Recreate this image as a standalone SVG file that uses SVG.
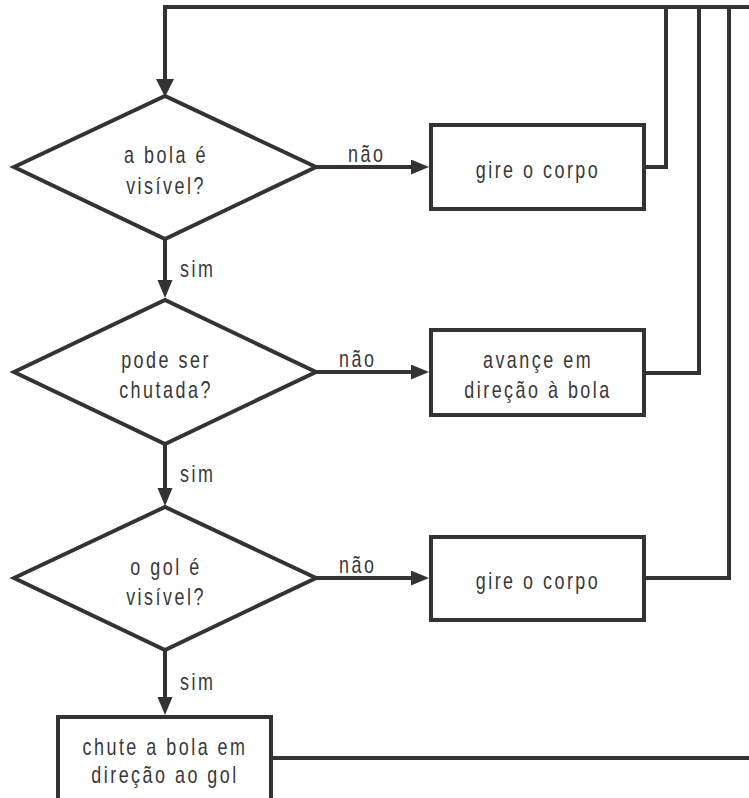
<svg xmlns="http://www.w3.org/2000/svg" width="749" height="798" viewBox="0 0 749 798">
<defs>
<marker id="arr" markerUnits="userSpaceOnUse" markerWidth="20" markerHeight="16" refX="2" refY="7.5" orient="auto">
<path d="M0,0 L18,7.5 L0,15 z" fill="#333"/>
</marker>
<style>
.shape{fill:#fff;stroke:#333;stroke-width:4;stroke-linejoin:miter}
.conn{fill:none;stroke:#333;stroke-width:4;stroke-linejoin:miter}
.arrow{marker-end:url(#arr)}
text{font-family:"Liberation Sans",Arial,sans-serif;font-size:23px;fill:#383838;letter-spacing:3.2px}
.c{text-anchor:middle}
</style>
</defs>
<rect width="749" height="798" fill="#fff"/>
<g id="connectors">
<path class="conn" d="M271,758 H762 V7 H165 V79"/>
<polygon points="156,79 174,79 165,97" fill="#333"/>
<path class="conn" d="M644,167 H666 V7"/>
<path class="conn" d="M644,373 H699 V7"/>
<path class="conn" d="M644,578 H729 V7"/>
<path class="conn arrow" d="M316,167 H413"/>
<path class="conn arrow" d="M316,372 H413"/>
<path class="conn arrow" d="M316,578 H413"/>
<path class="conn arrow" d="M165,239 V282"/>
<path class="conn arrow" d="M165,444 V490"/>
<path class="conn arrow" d="M165,650 V699"/>
<text transform="translate(348,162) scale(0.78,1)">não</text>
<text transform="translate(339,367) scale(0.78,1)">não</text>
<text transform="translate(339,573) scale(0.78,1)">não</text>
<text transform="translate(180,277) scale(0.78,1)">sim</text>
<text transform="translate(180,482) scale(0.78,1)">sim</text>
<text transform="translate(180,690) scale(0.78,1)">sim</text>
</g>
<g id="d1">
<polygon class="shape" points="14,167 165,96 316,167 165,239"/>
<text class="c" transform="translate(166,163) scale(0.78,1)">a bola é</text>
<text class="c" transform="translate(166,194) scale(0.78,1)">visível?</text>
</g>
<g id="b1">
<rect class="shape" x="431" y="125" width="213" height="84"/>
<text class="c" transform="translate(538,178) scale(0.78,1)">gire o corpo</text>
</g>
<g id="d2">
<polygon class="shape" points="14,372 165,300 316,372 165,444"/>
<text class="c" transform="translate(166,368) scale(0.78,1)">pode ser</text>
<text class="c" transform="translate(166,398) scale(0.78,1)">chutada?</text>
</g>
<g id="b2">
<rect class="shape" x="431" y="330" width="213" height="85"/>
<text class="c" transform="translate(538,368) scale(0.78,1)">avançe em</text>
<text class="c" transform="translate(538,398) scale(0.78,1)">direção à bola</text>
</g>
<g id="d3">
<polygon class="shape" points="14,578 165,507 316,578 165,650"/>
<text class="c" transform="translate(166,575) scale(0.78,1)">o gol é</text>
<text class="c" transform="translate(166,605) scale(0.78,1)">visível?</text>
</g>
<g id="b3">
<rect class="shape" x="431" y="537" width="213" height="83"/>
<text class="c" transform="translate(538,589) scale(0.78,1)">gire o corpo</text>
</g>
<g id="b4">
<rect class="shape" x="58" y="717" width="213" height="86"/>
<text class="c" transform="translate(165,755) scale(0.78,1)">chute a bola em</text>
<text class="c" transform="translate(165,783) scale(0.78,1)">direção ao gol</text>
</g>
</svg>
